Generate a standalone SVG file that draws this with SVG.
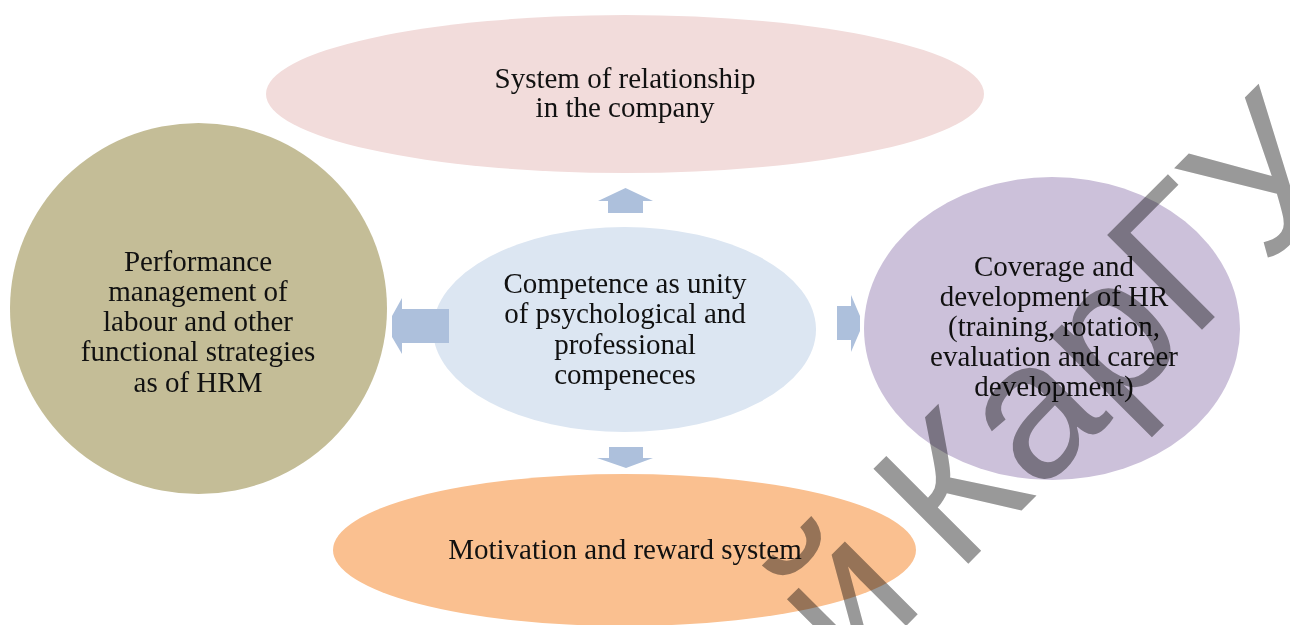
<svg xmlns="http://www.w3.org/2000/svg" width="1290" height="625" viewBox="0 0 1290 625">
<style>
.lbl{font-family:"Liberation Serif","Times New Roman",serif;font-size:29px;fill:#111;text-anchor:middle}
.arr{fill:#adc0dc}
.wm{font-family:"Liberation Sans",Arial,sans-serif;font-size:195px;fill:#999999;mix-blend-mode:multiply}
</style>
<rect width="1290" height="625" fill="#ffffff"/>
<g id="node-relationship">
<ellipse cx="625" cy="94" rx="359" ry="79" fill="#f2dcdb"/>
<text class="lbl" x="625" y="88">System of relationship</text>
<text class="lbl" x="625" y="117">in the company</text>
</g>
<g id="node-performance">
<ellipse cx="198.5" cy="308.5" rx="188.5" ry="185.5" fill="#c4bd97"/>
<text class="lbl" x="198" y="271">Performance</text>
<text class="lbl" x="198" y="301">management of</text>
<text class="lbl" x="198" y="331">labour and other</text>
<text class="lbl" x="198" y="361">functional strategies</text>
<text class="lbl" x="198" y="392">as of HRM</text>
</g>
<g id="node-coverage">
<ellipse cx="1052" cy="328.5" rx="188" ry="151.5" fill="#ccc1da"/>
<text class="lbl" x="1054" y="276">Coverage and</text>
<text class="lbl" x="1054" y="306">development of HR</text>
<text class="lbl" x="1054" y="336">(training, rotation,</text>
<text class="lbl" x="1054" y="366">evaluation and career</text>
<text class="lbl" x="1054" y="396">development)</text>
</g>
<g id="node-motivation">
<ellipse cx="624.5" cy="550" rx="291.5" ry="76" fill="#fac090"/>
<text class="lbl" x="625" y="559">Motivation and reward system</text>
</g>
<g id="node-competence">
<ellipse cx="624.5" cy="329.5" rx="191.5" ry="102.5" fill="#dce6f2"/>
<text class="lbl" x="625" y="293">Competence as unity</text>
<text class="lbl" x="625" y="323">of psychological and</text>
<text class="lbl" x="625" y="354">professional</text>
<text class="lbl" x="625" y="384">compeneces</text>
</g>
<g id="connectors">
<polygon class="arr" points="608,213 608,201 598,201 625.5,188 653,201 643,201 643,213"/>
<polygon class="arr" points="609,447 643,447 643,458 653,458 626,468 597,458 609,458"/>
<polygon class="arr" points="449,309 402,309 402,298 392,316 392,337 402,354 402,343 449,343"/>
<polygon class="arr" points="837,306 851,306 851,295 860,316 860,331 851,352 851,340 837,340"/>
</g>
<g id="watermark" transform="translate(957,575) rotate(-45)">
<text class="wm" x="-151" y="0">й <tspan x="0">КарГУ</tspan></text>
</g>
</svg>
